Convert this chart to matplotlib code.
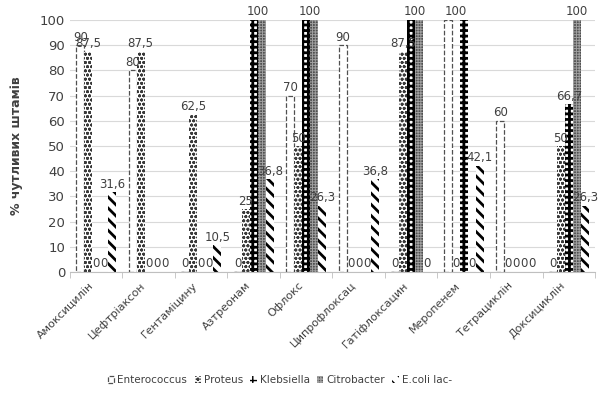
import matplotlib
matplotlib.use('Agg')
import matplotlib.pyplot as plt
import matplotlib.transforms as mtransforms
import numpy as np

# antibiotics (x categories), as printed on the chart
drugs = ['Амоксицилін', 'Цефтріаксон', 'Гентаміцину', 'Азтреонам', 'Офлокс',
         'Ципрофлоксац', 'Гатіфлоксацин', 'Меропенем', 'Тетрациклін',
         'Доксициклін']

# % of susceptible strains per organism
enterococcus = [90, 80, 0, 0, 70, 90, 0, 100, 60, 0]
proteus = [87.5, 87.5, 62.5, 25, 50, 0, 87.5, 0, 0, 50]
klebsiella = [0, 0, 0, 100, 100, 0, 100, 100, 0, 66.7]
citrobacter = [0, 0, 0, 100, 100, 0, 100, 0, 0, 100]
ecoli = [31.6, 0, 10.5, 36.8, 26.3, 36.8, 0, 42.1, 0, 26.3]

series = [
    ('Enterococcus', enterococcus),
    ('Proteus', proteus),
    ('Klebsiella', klebsiella),
    ('Citrobacter', citrobacter),
    ('E.coli lac-', ecoli),
]

# look of each series: face, edge, hatch, hatch line width, edge style
styles = {
    'Enterococcus': dict(facecolor='white', edgecolor='#505050', hatch=None, hlw=0.6, ls='--', lw=0.9),
    'Proteus': dict(facecolor='white', edgecolor='#3a3a3a', hatch='oooo', hlw=0.9, ls='-', lw=0),
    'Klebsiella': dict(facecolor='white', edgecolor='black', hatch='+++', hlw=2.0, ls='-', lw=0),
    'Citrobacter': dict(facecolor='#505050', edgecolor='#a0a0a0', hatch='++++++', hlw=0.7, ls='-', lw=0),
    'E.coli lac-': dict(facecolor='white', edgecolor='black', hatch='\\\\\\', hlw=2.0, ls='-', lw=0),
}


def fmt(v):
    return ('%g' % v).replace('.', ',')


plt.rcParams['font.family'] = ['DejaVu Sans']
fig = plt.figure(figsize=(5.98, 3.94), dpi=100)
ax = fig.add_axes([0.117, 0.31, 0.878, 0.639])

x = np.arange(len(drugs))
width = 0.152
lab_kw = dict(fontsize=8.5, color='#404040')
for i, (name, vals) in enumerate(series):
    st = styles[name]
    with plt.rc_context({'hatch.linewidth': st['hlw'], 'hatch.color': st['edgecolor']}):
        bars = ax.bar(x + (i - 2) * width, vals, width, label=name,
                      facecolor=st['facecolor'], edgecolor=st['edgecolor'],
                      hatch=st['hatch'], linewidth=st['lw'], linestyle=st['ls'])
    # full-height bars get one shared label per category (drawn below)
    labels = ['' if v == 100 else fmt(v) for v in vals]
    ax.bar_label(bars, labels=labels, padding=1, **lab_kw)

for j in range(len(drugs)):
    offs = [(i - 2) * width for i, (_, vals) in enumerate(series) if vals[j] == 100]
    if offs:
        ax.text(x[j] + np.mean(offs), 101, '100', ha='center', va='bottom', **lab_kw)

ax.set_ylim(0, 100)
ax.set_xlim(-0.5, len(drugs) - 0.5)
ax.set_yticks(range(0, 101, 10))
ax.tick_params(axis='y', length=0, labelsize=9.5, colors='#404040')
ax.yaxis.grid(True, color='#d9d9d9', linewidth=0.8)
ax.set_axisbelow(True)
for side in ['top', 'right', 'left']:
    ax.spines[side].set_visible(False)
ax.spines['bottom'].set_color('#bfbfbf')

ax.set_xticks(x)
ax.set_xticklabels(drugs, rotation=45, ha='right', rotation_mode='anchor',
                   fontsize=8, color='#404040')
ax.tick_params(axis='x', length=0, pad=6)
# nudge the slanted names a little to the left, as in the original
shift = mtransforms.ScaledTranslation(-6 / 72, 0, fig.dpi_scale_trans)
for lbl in ax.get_xticklabels():
    lbl.set_transform(lbl.get_transform() + shift)
ax.set_xticks(np.arange(len(drugs) + 1) - 0.5, minor=True)
ax.tick_params(axis='x', which='minor', length=4, color='#bfbfbf')

ax.set_ylabel('% чутливих штамів', fontsize=9, fontweight='bold', color='#404040',
              labelpad=12)

ax.legend(loc='center', bbox_to_anchor=(0.40, -0.43), ncol=5,
          frameon=False, fontsize=7.5, handlelength=0.6, handleheight=0.6,
          handletextpad=0.3, columnspacing=0.7, labelcolor='#404040')

fig.savefig('out.png', dpi=100)
